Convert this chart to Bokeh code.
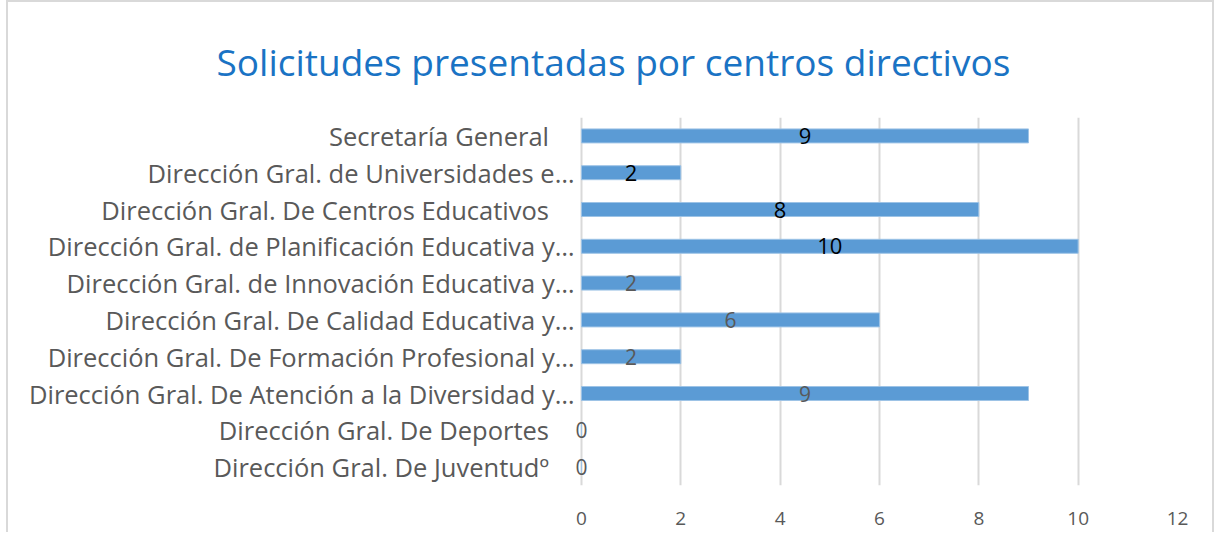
from bokeh.plotting import figure
from bokeh.models import ColumnDataSource, Range1d, FixedTicker, LabelSet
from bokeh.core.properties import value
from bokeh.embed import file_html
from bokeh.resources import INLINE

categories = [
    "Secretaría General",
    "Dirección Gral. de Universidades e…",
    "Dirección Gral. De Centros Educativos",
    "Dirección Gral. de Planificación Educativa y…",
    "Dirección Gral. de Innovación Educativa y…",
    "Dirección Gral. De Calidad Educativa y…",
    "Dirección Gral. De Formación Profesional y…",
    "Dirección Gral. De Atención a la Diversidad y…",
    "Dirección Gral. De Deportes",
    "Dirección Gral. De Juventudº",
]
values = [9, 2, 8, 10, 2, 6, 2, 9, 0, 0]
x_ticks = [0, 2, 4, 6, 8, 10, 12]

FONT = "Open Sans"
GRAY = "#595959"

n = len(categories)
pos = [n - 1 - i for i in range(n)]  # first category at the top
src = ColumnDataSource(dict(cat=categories, pos=pos, val=values,
                            mid=[v / 2 for v in values],
                            lab=[str(v) for v in values]))

p = figure(width=1208, height=532, output_backend="svg", toolbar_location=None,
           y_range=Range1d(-0.5, n - 0.5), x_range=(-0.14, 12),
           min_border_left=566, min_border_right=39, min_border_top=115,
           min_border_bottom=49)
p.outline_line_color = None
p.styles = {"border-top": "2px solid #D9D9D9", "border-left": "2px solid #D9D9D9",
            "border-right": "2px solid #D9D9D9", "margin-left": "6px"}

p.title.text = "Solicitudes presentadas por centros directivos"
p.title.align = "left"
p.title.offset = -358
p.title.text_font = FONT
p.title.text_font_size = "37px"
p.title.text_font_style = "normal"
p.title.text_color = "#1A73C4"
p.title.standoff = 62

p.hbar(y="pos", right="val", height=0.38, source=src,
       fill_color="#5B9BD5", line_color="#9DC3E6", line_width=1)

top = ColumnDataSource(dict(x=src.data["mid"][:4], y=pos[:4], t=src.data["lab"][:4]))
rest = ColumnDataSource(dict(x=src.data["mid"][4:], y=pos[4:], t=src.data["lab"][4:]))
p.add_layout(LabelSet(x="x", y="y", text="t", source=top, text_align="center",
                      text_baseline="middle", text_font=value(FONT), text_font_size="22px",
                      text_color="#000000"))
p.add_layout(LabelSet(x="x", y="y", text="t", source=rest, text_align="center",
                      text_baseline="middle", text_font=value(FONT), text_font_size="21px",
                      text_color=GRAY))

p.xaxis.ticker = FixedTicker(ticks=x_ticks)
p.xaxis.axis_line_color = None
p.xaxis.major_tick_line_color = None
p.xaxis.minor_tick_line_color = None
p.xaxis.major_label_standoff = 20
p.xaxis.major_label_text_font = FONT
p.xaxis.major_label_text_font_size = "19px"
p.xaxis.major_label_text_color = GRAY

p.yaxis.ticker = FixedTicker(ticks=pos)
p.yaxis.major_label_overrides = {
    y: (c if c.endswith("…") else c + "\u2002\u2002") for y, c in zip(pos, categories)
}
p.yaxis.axis_line_color = None
p.yaxis.major_tick_line_color = None
p.yaxis.minor_tick_line_color = None
p.yaxis.major_label_standoff = -6
p.yaxis.major_label_text_font = FONT
p.yaxis.major_label_text_font_size = "25.5px"
p.yaxis.major_label_text_color = GRAY

p.xgrid.ticker = FixedTicker(ticks=x_ticks)
p.xgrid.grid_line_color = "#D9D9D9"
p.xgrid.grid_line_width = 2
p.ygrid.grid_line_color = None

open("out.html", "w").write(file_html(p, INLINE))
